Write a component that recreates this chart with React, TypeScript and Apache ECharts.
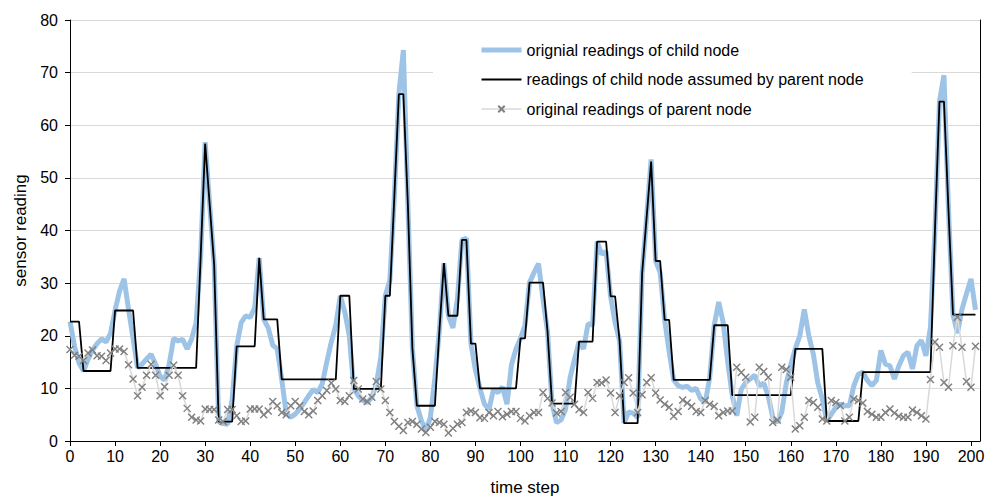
import React, { useEffect, useRef } from "react";
import * as echarts from "echarts";

// original readings of child node (blue, thick)
const childOriginal = [
  22.7, 18.0, 14.8, 13.3, 15.5, 17.3, 18.5, 19.4, 18.8, 20.5,
  24.8, 28.5, 30.8, 25.0, 19.5, 13.9, 14.6, 15.6, 16.5, 14.6,
  12.3, 11.6, 14.5, 19.5, 19.0, 19.3, 17.5, 19.4, 22.5, 35.0,
  56.8, 45.0, 33.5, 3.7, 3.3, 3.2, 8.0, 18.0, 22.5, 23.8,
  23.5, 25.3, 34.8, 23.1, 21.5, 18.2, 17.5, 11.7, 5.2, 4.5,
  5.1, 6.1, 7.3, 8.6, 9.8, 9.2, 10.9, 15.0, 18.8, 22.0,
  27.6, 24.5, 20.0, 9.9, 8.6, 7.7, 7.3, 8.3, 10.8, 16.0,
  27.6, 30.5, 46.5, 65.9, 74.3, 45.0, 17.6, 6.7, 3.9, 2.0,
  4.5, 12.0, 21.0, 33.8, 23.8, 21.5, 27.0, 38.2, 38.5, 18.5,
  13.5, 10.0, 7.0, 6.0, 9.8, 9.2, 10.3, 7.0, 14.5, 17.5,
  19.5, 22.0, 30.1, 32.0, 33.7, 27.0, 20.8, 7.1, 3.5, 4.0,
  6.0, 12.0, 15.5, 18.9, 17.5, 22.3, 22.0, 37.9, 35.5, 36.0,
  27.5, 22.5, 19.0, 3.4, 5.5, 5.3, 4.5, 31.9, 42.5, 53.5,
  34.2, 32.0, 23.0, 17.0, 11.6, 10.5, 10.2, 10.4, 9.6, 10.0,
  8.0, 7.3, 12.0, 22.0, 26.4, 22.5, 15.0, 8.7, 4.8, 9.8,
  11.1, 11.8, 12.5, 10.5, 11.0, 8.5, 4.5, 3.5, 5.5, 11.0,
  14.5, 17.5, 20.0, 25.0, 20.0, 16.5, 11.0, 8.0, 3.8, 5.1,
  6.4, 7.0, 6.7, 6.7, 10.5, 12.7, 13.1, 11.5, 10.5, 11.5,
  17.2, 14.6, 14.3, 11.8, 14.3, 16.2, 16.9, 13.7, 18.1, 19.1,
  16.2, 21.6, 40.0, 64.5, 69.5, 44.0, 24.0, 20.5, 25.0, 28.0,
  30.8, 24.9,
];

// readings of child node assumed by parent node (black)
const childAssumed = [
  22.7, 22.7, 22.7, 13.3, 13.3, 13.3, 13.3, 13.3, 13.3, 13.3,
  24.8, 24.8, 24.8, 24.8, 24.8, 13.9, 13.9, 13.9, 13.9, 13.9,
  13.9, 13.9, 13.9, 13.9, 13.9, 13.9, 13.9, 13.9, 13.9, 35.0,
  56.5, 45.0, 33.5, 3.7, 3.7, 3.7, 3.7, 18.0, 18.0, 18.0,
  18.0, 18.0, 34.8, 23.1, 23.1, 23.1, 23.1, 11.7, 11.7, 11.7,
  11.7, 11.7, 11.7, 11.7, 11.7, 11.7, 11.7, 11.7, 11.7, 11.7,
  27.6, 27.6, 27.6, 9.9, 9.9, 9.9, 9.9, 9.9, 9.9, 9.9,
  27.6, 27.6, 46.5, 65.9, 65.9, 45.0, 17.6, 6.7, 6.7, 6.7,
  6.7, 6.7, 21.0, 33.8, 23.8, 23.8, 23.8, 38.2, 38.2, 18.5,
  18.5, 10.0, 10.0, 10.0, 10.0, 10.0, 10.0, 10.0, 10.0, 10.0,
  19.5, 19.5, 30.1, 30.1, 30.1, 30.1, 20.8, 7.1, 7.1, 7.1,
  7.1, 7.1, 7.1, 18.9, 18.9, 18.9, 18.9, 37.9, 37.9, 37.9,
  27.5, 27.5, 19.0, 3.4, 3.4, 3.4, 3.4, 31.9, 42.5, 53.1,
  34.2, 34.2, 23.0, 23.0, 11.6, 11.6, 11.6, 11.6, 11.6, 11.6,
  11.6, 11.6, 11.6, 22.0, 22.0, 22.0, 22.0, 8.7, 8.7, 8.7,
  8.7, 8.7, 8.7, 8.7, 8.7, 8.7, 8.7, 8.7, 8.7, 8.7,
  8.7, 17.5, 17.5, 17.5, 17.5, 17.5, 17.5, 17.5, 3.8, 3.8,
  3.8, 3.8, 3.8, 3.8, 3.8, 3.8, 13.1, 13.1, 13.1, 13.1,
  13.1, 13.1, 13.1, 13.1, 13.1, 13.1, 13.1, 13.1, 13.1, 13.1,
  13.1, 13.1, 40.0, 64.5, 64.5, 44.0, 24.0, 24.0, 24.0, 24.0,
  24.0, 24.0,
];

// original readings of parent node (grey, x markers)
const parentOriginal = [
  17.4, 16.3, 16.1, 15.3, 16.7, 17.3, 16.2, 16.1, 15.3, 16.7,
  17.5, 17.5, 17.0, 14.5, 11.8, 8.6, 10.2, 12.5, 14.6, 12.5,
  8.6, 10.3, 12.5, 14.4, 12.5, 8.6, 6.2, 4.5, 4.0, 3.8,
  6.1, 6.0, 6.0, 4.0, 3.7, 6.0, 6.0, 4.8, 3.7, 3.8,
  6.1, 6.1, 6.1, 5.0, 5.7, 7.5, 6.7, 5.4, 5.0, 6.7,
  7.5, 6.7, 5.6, 5.0, 5.7, 7.7, 8.6, 9.6, 11.0, 9.9,
  7.7, 7.5, 8.6, 11.5, 9.9, 8.0, 7.5, 8.3, 11.3, 9.9,
  7.7, 5.4, 3.7, 2.8, 2.0, 3.5, 3.7, 3.2, 2.3, 1.6,
  2.6, 3.7, 3.5, 3.2, 1.5, 2.4, 3.2, 3.5, 5.4, 5.7,
  5.4, 4.4, 4.3, 5.4, 4.8, 5.6, 4.6, 5.1, 5.6, 5.6,
  4.3, 3.8, 4.8, 5.4, 5.4, 9.2, 8.1, 7.2, 5.3, 5.6,
  9.2, 8.3, 7.0, 6.0, 5.4, 9.2, 8.1, 11.1, 11.0, 11.6,
  9.1, 5.4, 8.6, 11.1, 12.0, 9.1, 5.4, 8.8, 11.1, 12.0,
  9.1, 7.8, 7.0, 6.4, 4.7, 5.6, 7.8, 7.2, 6.6, 5.6,
  5.4, 7.7, 7.0, 6.6, 4.8, 5.4, 5.7, 5.7, 14.0, 13.0,
  12.1, 3.6, 4.5, 14.0, 13.2, 12.1, 3.5, 4.0, 14.0, 13.6,
  12.1, 2.3, 2.9, 4.5, 7.7, 7.3, 6.4, 4.2, 3.8, 7.7,
  7.3, 6.7, 3.8, 4.5, 8.0, 7.7, 7.2, 5.6, 5.1, 4.5,
  4.5, 5.4, 6.1, 5.3, 4.7, 4.5, 4.5, 5.9, 5.4, 4.8,
  4.2, 11.7, 18.8, 17.8, 11.1, 10.2, 18.1, 23.5, 17.8, 11.3,
  10.2, 18.0,
];

const seriesNames = [
  "orignial readings of child node",
  "readings of child node assumed by parent node",
  "original readings of parent node",
];

const xTickValues = [0, 10, 20, 30, 40, 50, 60, 70, 80, 90, 100, 110, 120, 130, 140, 150, 160, 170, 180, 190, 200];

const FONT = "'Liberation Sans', Arial, sans-serif";

export default function App() {
  const ref = useRef<HTMLDivElement>(null);

  useEffect(() => {
    if (!ref.current) return;
    const chart = echarts.init(ref.current, undefined, { renderer: "svg" });
    const toPairs = (arr: number[]) => arr.map((v, i) => [i, v]);
    const hiddenSymbol = { color: "transparent", borderColor: "transparent", opacity: 0 };

    chart.setOption({
      animation: false,
      backgroundColor: "#ffffff",
      textStyle: { fontFamily: FONT },
      grid: { left: 70, top: 20, right: 20, bottom: 56, containLabel: false, outerBoundsMode: "none" },
      legend: {
        orient: "vertical",
        left: 433,
        top: 30,
        padding: [12, 48, 8, 46],
        backgroundColor: "#ffffff",
        itemWidth: 40,
        itemHeight: 8,
        itemGap: 13.5,
        textStyle: { fontSize: 16, color: "#000", fontFamily: FONT, lineHeight: 16 },
        data: [
          { name: seriesNames[0], itemStyle: hiddenSymbol, lineStyle: { width: 5, color: "#9dc3e6" } },
          { name: seriesNames[1], itemStyle: hiddenSymbol, lineStyle: { width: 1.8, color: "#000" } },
          { name: seriesNames[2], lineStyle: { width: 1.5, color: "#d9d9d9" } },
        ],
      },
      xAxis: {
        type: "value",
        min: 0,
        max: 202,
        interval: 10,
        name: "time step",
        nameLocation: "middle",
        nameGap: 38,
        nameTextStyle: { fontSize: 17, color: "#000", fontFamily: FONT },
        axisLine: { show: true, lineStyle: { color: "#000", width: 1 } },
        axisTick: { show: true, inside: false, length: 5, lineStyle: { color: "#000" }, customValues: xTickValues },
        axisLabel: { fontSize: 16, color: "#000", margin: 7, fontFamily: FONT, customValues: xTickValues },
        splitLine: { show: false },
      },
      yAxis: [
        {
          type: "value",
          min: 0,
          max: 80,
          interval: 10,
          name: "sensor reading",
          nameLocation: "middle",
          nameGap: 40,
          nameTextStyle: { fontSize: 17, color: "#000", fontFamily: FONT },
          axisLine: { show: true, lineStyle: { color: "#000", width: 1 } },
          axisTick: { show: true, inside: false, length: 5, lineStyle: { color: "#000" } },
          axisLabel: { fontSize: 16, color: "#000", margin: 12, fontFamily: FONT },
          splitLine: { show: true, lineStyle: { color: "#d9d9d9", width: 1 } },
        },
        {
          type: "value",
          min: 0,
          max: 80,
          interval: 10,
          position: "right",
          axisLine: { show: true, lineStyle: { color: "#000", width: 1 } },
          axisTick: { show: false },
          axisLabel: { show: false },
          splitLine: { show: false },
        },
      ],
      series: [
        {
          name: seriesNames[0],
          type: "line",
          data: toPairs(childOriginal),
          symbol: "none",
          lineStyle: { color: "#9dc3e6", width: 5 },
          itemStyle: { color: "#9dc3e6" },
        },
        {
          name: seriesNames[1],
          type: "line",
          data: toPairs(childAssumed),
          symbol: "none",
          lineStyle: { color: "#000000", width: 1.8 },
          itemStyle: { color: "#000000" },
        },
        {
          name: seriesNames[2],
          type: "line",
          data: toPairs(parentOriginal),
          symbol: "path://M0,0L10,10M10,0L0,10",
          symbolSize: 7,
          showAllSymbol: true,
          lineStyle: { color: "#d9d9d9", width: 1.5 },
          itemStyle: { color: "#7f7f7f", borderColor: "#7f7f7f", borderWidth: 1.4 },
        },
      ],
    });

    return () => chart.dispose();
  }, []);

  return (
    <div
      ref={ref}
      style={{ position: "fixed", left: 0, top: 0, width: 1000, height: 497, background: "#fff" }}
    />
  );
}
